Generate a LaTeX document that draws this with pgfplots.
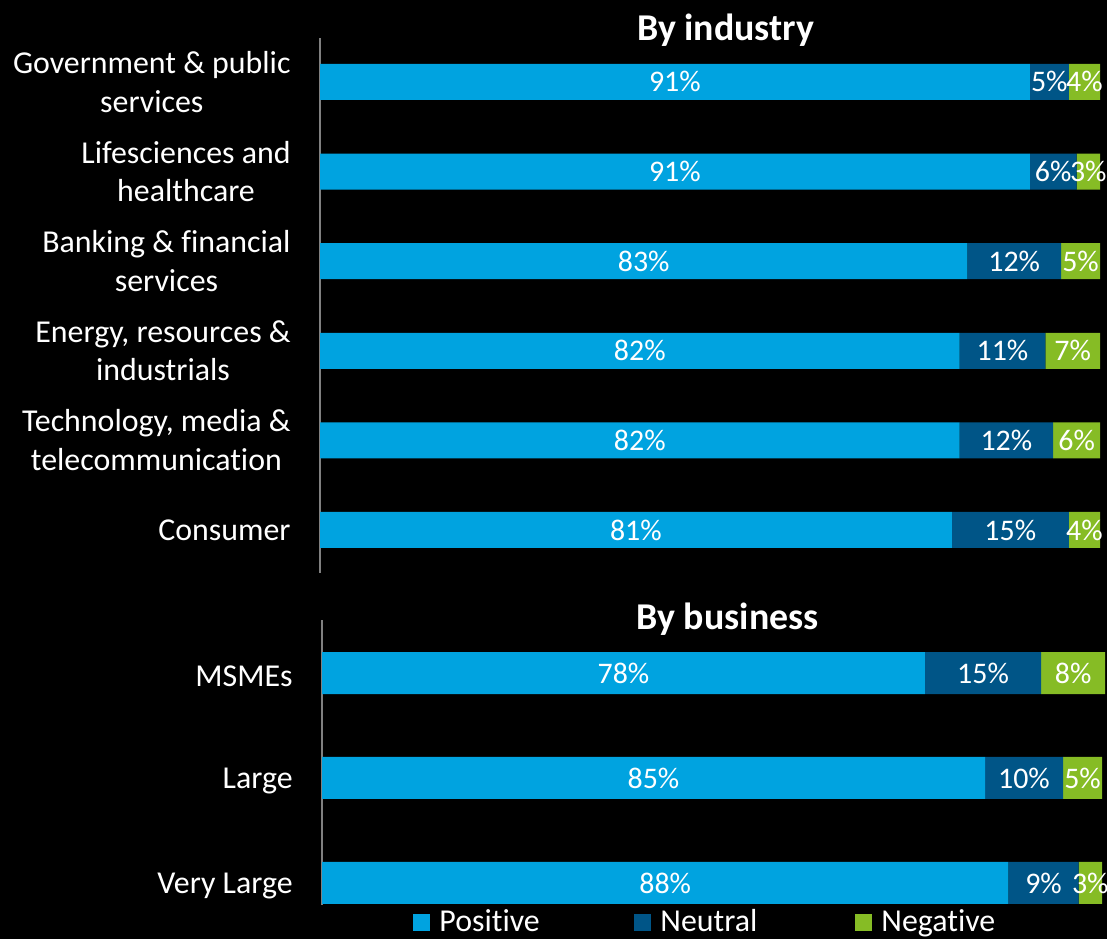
\documentclass[border=0pt]{standalone}
\usepackage{pgfplots}
\pgfplotsset{compat=1.18}
\usepackage{fontspec}
\setmainfont{Carlito}[Ligatures=NoCommon]
\definecolor{pos}{HTML}{00A3E0}
\definecolor{neu}{HTML}{005587}
\definecolor{negc}{HTML}{86BC25}
\begin{document}
\begin{tikzpicture}
\fill[black] (0,0) rectangle (553.5bp,-469.5bp);
\useasboundingbox (0,0) rectangle (553.5bp,-469.5bp);
\pgfplotsset{
  panel/.style={
    xbar stacked, scale only axis, width=390bp,
    xmin=0, xmax=100, y dir=reverse,
    axis x line=none, axis y line*=left,
    y axis line style={draw=gray, line width=1bp, -},
    ytick=data, major tick length=0pt,
    yticklabel style={font=\fontsize{16}{19.5}\selectfont, text=white, align=center, inner sep=0pt, xshift=-14.5bp},
    point meta=explicit symbolic,
    nodes near coords={\pgfplotspointmeta\%},
    every node near coord/.append style={font=\fontsize{15}{18}\selectfont, text=white},
    title style={font=\bfseries\fontsize{19}{22}\selectfont, text=white, at={(0.52,1)}, anchor=base},
    clip=false,
  }
}
\begin{axis}[panel, at={(160bp,-19bp)}, anchor=north west,
    height=267.5bp, ymin=-0.49, ymax=5.48, bar width=18bp,
    title={By industry}, title style={yshift=-7bp},
    yticklabels={{Government \& public\\services},{Lifesciences and\\healthcare},{Banking \& financial\\services},{Energy, resources \&\\industrials},{Technology, media \&\\telecommunication},{Consumer}}]
\addplot[fill=pos, draw=none] coordinates {(91,0) [91] (91,1) [91] (83,2) [83] (82,3) [82] (82,4) [82] (81,5) [81]};
\addplot[fill=neu, draw=none] coordinates {(5,0) [5] (6,1) [6] (12,2) [12] (11,3) [11] (12,4) [12] (15,5) [15]};
\addplot[fill=negc, draw=none] coordinates {(4,0) [4] (3,1) [3] (5,2) [5] (7,3) [7] (6,4) [6] (4,5) [4]};
\end{axis}
\begin{axis}[panel, at={(161bp,-310bp)}, anchor=north west,
    height=142.5bp, ymin=-0.505, ymax=2.21, bar width=21bp,
    title={By business}, title style={yshift=-10.5bp},
    yticklabels={MSMEs,Large,Very Large},
    yticklabel style={yshift=-1.5bp},
    legend columns=3,
    legend image code/.code={\path[#1] (0bp,-4.25bp) rectangle (8.5bp,4.25bp);},
    legend style={at={(0.1167,-0.06)}, anchor=west, draw=none, fill=none, inner sep=0pt,
      text=white, font=\fontsize{16}{19}\selectfont,
      nodes={text width=97.5bp, inner sep=0pt, align=left},
      /tikz/every odd column/.append style={column sep=4.5bp}}]
\addplot[fill=pos, draw=none] coordinates {(77.3,0) [78] (85,1) [85] (88,2) [88]};
\addplot[fill=neu, draw=none] coordinates {(14.9,0) [15] (10,1) [10] (9,2) [9]};
\addplot[fill=negc, draw=none] coordinates {(8.2,0) [8] (5,1) [5] (3,2) [3]};
\legend{Positive,Neutral,Negative}
\end{axis}
\end{tikzpicture}
\end{document}
